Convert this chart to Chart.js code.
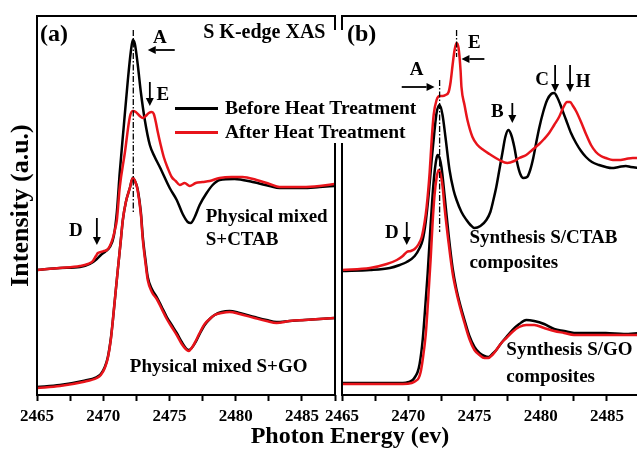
<!DOCTYPE html>
<html>
<head>
<meta charset="utf-8">
<script src="https://cdn.jsdelivr.net/npm/chart.js@4.4.1/dist/chart.umd.min.js"></script>
<style>
    html, body { margin: 0; padding: 0; background: #fff; }
    body { width: 637px; height: 451px; position: relative; overflow: hidden; font-family: 'Liberation Serif', 'Times New Roman', serif; }
    canvas { position: absolute; top: 0; }
    #chartA { left: 0; }
    #chartB { left: 300px; }
    .gap { position: absolute; left: 330px; top: 30px; width: 17px; height: 113px; background: #fff; z-index: 2; }
    .swatch { position: absolute; left: 175px; width: 43px; height: 3px; z-index: 3; }
    .ltext { position: absolute; left: 225px; font: bold 19.5px/24px 'Liberation Serif', serif; white-space: nowrap; z-index: 3; }
    .xtitle { position: absolute; left: 0; width: 700px; top: 423px; text-align: center; font: bold 24px/24px 'Liberation Serif', serif; z-index: 3; }
</style>
</head>
<body>
<canvas id="chartA" width="340" height="451"></canvas>
<canvas id="chartB" width="345" height="451"></canvas>
<div class="gap"></div>
<div class="swatch" style="top:107px;background:#000"></div>
<div class="ltext" style="top:96px">Before Heat Treatment</div>
<div class="swatch" style="top:131px;background:#e8141b"></div>
<div class="ltext" style="top:120px">After Heat Treatment</div>
<div class="xtitle">Photon Energy (ev)</div>

<script>
// Axis
const energyMin = 2465;
const energyMax = 2487.5;
const energyStep = 2.5;

// (a) Physical mixed S+CTAB
const aCtabBeforeE = [2465.00, 2466.73, 2468.24, 2468.99, 2469.52, 2469.82, 2470.20, 2470.50, 2470.80, 2471.03, 2471.25, 2471.56, 2471.86, 2472.08, 2472.23, 2472.39, 2472.61, 2472.84, 2473.14, 2473.52, 2473.89, 2474.27, 2475.02, 2475.55, 2476.00, 2476.38, 2476.61, 2476.91, 2477.28, 2477.81, 2478.26, 2478.79, 2479.92, 2481.28, 2482.56, 2483.31, 2485.05, 2486.33, 2487.46];
const aCtabBeforeI = [1.25, 1.27, 1.28, 1.31, 1.36, 1.40, 1.44, 1.48, 1.59, 1.83, 2.23, 2.70, 3.15, 3.43, 3.55, 3.51, 3.30, 3.03, 2.75, 2.50, 2.38, 2.28, 2.07, 1.95, 1.81, 1.73, 1.72, 1.78, 1.90, 2.02, 2.10, 2.15, 2.16, 2.13, 2.09, 2.07, 2.07, 2.08, 2.09];

const aCtabAfterE = [2465.00, 2466.73, 2468.24, 2468.84, 2469.22, 2469.45, 2469.60, 2469.82, 2470.05, 2470.28, 2470.50, 2470.73, 2470.88, 2471.03, 2471.25, 2471.63, 2472.01, 2472.23, 2472.46, 2472.76, 2472.99, 2473.21, 2473.44, 2473.67, 2473.82, 2473.97, 2474.12, 2474.34, 2474.57, 2474.87, 2475.17, 2475.47, 2475.78, 2476.15, 2476.53, 2476.98, 2477.51, 2478.04, 2478.79, 2479.69, 2480.52, 2481.58, 2482.56, 2483.31, 2485.05, 2486.33, 2487.46];
const aCtabAfterI = [1.25, 1.27, 1.29, 1.31, 1.34, 1.39, 1.42, 1.43, 1.44, 1.45, 1.49, 1.57, 1.65, 1.75, 2.08, 2.42, 2.78, 2.84, 2.83, 2.79, 2.77, 2.79, 2.82, 2.83, 2.81, 2.73, 2.63, 2.50, 2.38, 2.27, 2.18, 2.14, 2.10, 2.12, 2.09, 2.12, 2.13, 2.14, 2.17, 2.18, 2.18, 2.15, 2.11, 2.08, 2.08, 2.09, 2.11];

// (a) Physical mixed S+GO
const aGoE = [2465.00, 2466.73, 2468.47, 2469.52, 2469.82, 2470.12, 2470.35, 2470.58, 2470.73, 2470.95, 2471.10, 2471.33, 2471.48, 2471.71, 2472.01, 2472.23, 2472.46, 2472.61, 2472.84, 2472.99, 2473.21, 2473.36, 2473.67, 2474.04, 2474.42, 2474.80, 2475.17, 2475.55, 2475.93, 2476.23, 2476.45, 2476.68, 2476.98, 2477.28, 2477.66, 2478.04, 2478.41, 2478.94, 2479.54, 2480.30, 2481.43, 2482.33, 2483.09, 2484.07, 2485.20, 2486.33, 2487.46];
const aGoBeforeI = [0.08, 0.10, 0.14, 0.18, 0.21, 0.28, 0.38, 0.57, 0.75, 1.05, 1.25, 1.55, 1.75, 1.93, 2.07, 2.17, 2.12, 2.05, 1.83, 1.58, 1.33, 1.18, 1.06, 0.98, 0.88, 0.78, 0.70, 0.62, 0.53, 0.47, 0.45, 0.47, 0.53, 0.61, 0.70, 0.76, 0.80, 0.83, 0.84, 0.82, 0.78, 0.75, 0.73, 0.74, 0.75, 0.76, 0.77];
const aGoAfterI = [0.07, 0.09, 0.13, 0.17, 0.20, 0.27, 0.37, 0.56, 0.75, 1.05, 1.25, 1.55, 1.75, 1.93, 2.07, 2.17, 2.12, 2.04, 1.81, 1.55, 1.30, 1.15, 1.03, 0.96, 0.86, 0.76, 0.68, 0.60, 0.51, 0.46, 0.44, 0.47, 0.54, 0.62, 0.71, 0.76, 0.80, 0.82, 0.83, 0.81, 0.77, 0.74, 0.72, 0.74, 0.75, 0.76, 0.77];

// (b) Synthesis S/CTAB composites
const bCtabBeforeE = [2465.00, 2467.11, 2468.61, 2469.36, 2469.89, 2470.49, 2470.86, 2471.09, 2471.32, 2471.54, 2471.77, 2471.99, 2472.14, 2472.37, 2472.59, 2472.82, 2473.12, 2473.42, 2473.65, 2474.02, 2474.40, 2474.70, 2475.00, 2475.45, 2475.90, 2476.20, 2476.43, 2476.65, 2476.88, 2477.11, 2477.33, 2477.56, 2477.78, 2478.01, 2478.23, 2478.46, 2478.68, 2478.98, 2479.21, 2479.44, 2479.66, 2479.89, 2480.19, 2480.49, 2480.79, 2481.02, 2481.24, 2481.47, 2481.69, 2481.92, 2482.29, 2482.67, 2483.05, 2483.42, 2483.87, 2484.40, 2484.92, 2485.38, 2485.90, 2486.43, 2486.80, 2487.48];
const bCtabBeforeI = [1.24, 1.25, 1.27, 1.30, 1.33, 1.39, 1.47, 1.55, 1.73, 2.00, 2.35, 2.65, 2.82, 2.90, 2.80, 2.57, 2.25, 2.05, 1.95, 1.83, 1.75, 1.70, 1.67, 1.69, 1.75, 1.83, 1.95, 2.08, 2.25, 2.42, 2.58, 2.65, 2.60, 2.48, 2.32, 2.21, 2.17, 2.18, 2.25, 2.37, 2.52, 2.67, 2.83, 2.95, 3.01, 3.02, 2.98, 2.91, 2.83, 2.75, 2.62, 2.52, 2.44, 2.38, 2.33, 2.30, 2.28, 2.27, 2.28, 2.29, 2.28, 2.27];

const bCtabAfterE = [2465.00, 2467.11, 2468.38, 2469.14, 2469.59, 2469.89, 2470.19, 2470.49, 2470.79, 2471.02, 2471.24, 2471.39, 2471.62, 2471.77, 2471.92, 2472.14, 2472.37, 2472.59, 2472.82, 2473.05, 2473.20, 2473.35, 2473.50, 2473.65, 2473.80, 2473.95, 2474.02, 2474.25, 2474.47, 2474.85, 2475.23, 2475.68, 2476.13, 2476.88, 2477.48, 2478.01, 2478.38, 2478.91, 2479.36, 2479.89, 2480.26, 2480.64, 2481.02, 2481.39, 2481.69, 2481.99, 2482.22, 2482.44, 2482.67, 2483.05, 2483.42, 2483.80, 2484.17, 2484.55, 2484.92, 2485.45, 2485.90, 2486.43, 2486.95, 2487.48];
const bCtabAfterI = [1.25, 1.27, 1.31, 1.35, 1.39, 1.43, 1.44, 1.46, 1.51, 1.58, 1.73, 1.88, 2.23, 2.55, 2.80, 2.95, 2.99, 2.99, 3.00, 3.03, 3.13, 3.30, 3.45, 3.52, 3.47, 3.25, 3.08, 2.90, 2.75, 2.58, 2.50, 2.45, 2.41, 2.35, 2.32, 2.34, 2.37, 2.40, 2.45, 2.51, 2.56, 2.62, 2.70, 2.78, 2.87, 2.93, 2.93, 2.89, 2.84, 2.73, 2.61, 2.50, 2.43, 2.39, 2.37, 2.35, 2.35, 2.36, 2.37, 2.37];

// (b) Synthesis S/GO composites
const bGoBeforeE = [2465.00, 2467.86, 2469.59, 2470.04, 2470.34, 2470.56, 2470.71, 2470.86, 2471.09, 2471.24, 2471.47, 2471.69, 2471.84, 2471.99, 2472.14, 2472.22, 2472.37, 2472.52, 2472.74, 2473.05, 2473.35, 2473.65, 2473.95, 2474.25, 2474.62, 2475.00, 2475.38, 2475.75, 2476.05, 2476.35, 2476.65, 2477.03, 2477.41, 2477.86, 2478.38, 2478.91, 2479.51, 2480.26, 2481.02, 2481.77, 2482.52, 2483.65, 2484.92, 2486.28, 2487.48];
const bGoBeforeI = [0.12, 0.12, 0.12, 0.13, 0.15, 0.19, 0.23, 0.31, 0.55, 0.80, 1.22, 1.70, 2.00, 2.23, 2.37, 2.40, 2.37, 2.27, 2.00, 1.60, 1.27, 1.05, 0.89, 0.75, 0.59, 0.48, 0.42, 0.39, 0.38, 0.41, 0.45, 0.52, 0.58, 0.65, 0.71, 0.75, 0.74, 0.71, 0.66, 0.64, 0.62, 0.62, 0.62, 0.61, 0.62];

const bGoAfterE = [2465.00, 2467.86, 2469.59, 2470.26, 2470.56, 2470.79, 2470.94, 2471.09, 2471.32, 2471.47, 2471.69, 2471.84, 2471.99, 2472.14, 2472.29, 2472.44, 2472.59, 2472.74, 2473.05, 2473.35, 2473.65, 2473.95, 2474.25, 2474.62, 2475.00, 2475.38, 2475.75, 2476.05, 2476.35, 2476.65, 2477.03, 2477.41, 2477.86, 2478.38, 2478.91, 2479.51, 2480.26, 2481.02, 2481.77, 2482.52, 2483.65, 2484.92, 2486.28, 2487.48];
const bGoAfterI = [0.11, 0.11, 0.11, 0.12, 0.14, 0.17, 0.23, 0.35, 0.60, 0.88, 1.35, 1.72, 2.00, 2.17, 2.25, 2.21, 2.09, 1.88, 1.52, 1.22, 1.02, 0.86, 0.72, 0.56, 0.45, 0.40, 0.37, 0.37, 0.40, 0.45, 0.52, 0.57, 0.63, 0.68, 0.70, 0.70, 0.67, 0.64, 0.62, 0.60, 0.60, 0.60, 0.60, 0.60];

// Annotations (energy, intensity)
const notesA = {
    texts: [
        { t: '(a)', x: 2465.23, y: 3.60, align: 'left', size: 24 },
        { t: 'S K-edge XAS', x: 2486.78, y: 3.62, align: 'right', size: 20 },
        { t: 'A', x: 2474.27, y: 3.57 },
        { t: 'E', x: 2474.50, y: 3.00 },
        { t: 'D', x: 2467.94, y: 1.64 },
        { t: 'Physical mixed', x: 2477.74, y: 1.78, align: 'left' },
        { t: 'S+CTAB', x: 2477.74, y: 1.55, align: 'left' },
        { t: 'Physical mixed S+GO', x: 2472.01, y: 0.28, align: 'left' }
    ],
    arrows: [
        [2475.40, 3.45, 2473.36, 3.45],
        [2473.52, 3.13, 2473.52, 2.89],
        [2469.52, 1.77, 2469.52, 1.50]
    ],
    guides: [[2472.27, 3.65, 1.82]]
};

const notesB = {
    texts: [
        { t: '(b)', x: 2465.38, y: 3.60, align: 'left', size: 24 },
        { t: 'A', x: 2470.64, y: 3.25 },
        { t: 'E', x: 2475.00, y: 3.52 },
        { t: 'B', x: 2476.73, y: 2.83 },
        { t: 'C', x: 2480.11, y: 3.15 },
        { t: 'H', x: 2483.20, y: 3.13 },
        { t: 'D', x: 2468.76, y: 1.62 },
        { t: 'Synthesis S/CTAB', x: 2474.62, y: 1.57, align: 'left' },
        { t: 'composites', x: 2474.62, y: 1.32, align: 'left' },
        { t: 'Synthesis S/GO', x: 2477.41, y: 0.45, align: 'left' },
        { t: 'composites', x: 2477.41, y: 0.18, align: 'left' }
    ],
    arrows: [
        [2469.51, 3.08, 2471.99, 3.08],
        [2475.75, 3.36, 2474.02, 3.36],
        [2477.86, 2.92, 2477.86, 2.72],
        [2481.09, 3.30, 2481.09, 3.03],
        [2482.22, 3.30, 2482.22, 3.03],
        [2469.89, 1.73, 2469.89, 1.50]
    ],
    guides: [[2472.37, 3.15, 1.63], [2473.65, 3.65, 3.38]]
};

const BLACK = '#000000';
const RED = '#e8141b';
const FONT = "'Liberation Serif', 'Times New Roman', serif";

function pts(xs, ys) {
    return xs.map((x, i) => ({ x: x, y: ys[i] }));
}

function line(label, xs, ys, color) {
    return {
        label: label,
        data: pts(xs, ys),
        borderColor: color,
        borderWidth: 2.5,
        pointRadius: 0,
        cubicInterpolationMode: 'monotone',
        fill: false
    };
}

// Frame, arrows, dash-dot guides and labels
function makeNotes(notes) {
    return {
        id: 'notes',
        afterDatasetsDraw(chart) {
            const { ctx, chartArea: a, scales: { x, y } } = chart;
            ctx.save();
            ctx.strokeStyle = BLACK;
            ctx.fillStyle = BLACK;

            ctx.lineWidth = 1.3;
            ctx.setLineDash([6, 2, 1.5, 2]);
            notes.guides.forEach(g => {
                const px = x.getPixelForValue(g[0]);
                ctx.beginPath();
                ctx.moveTo(px, y.getPixelForValue(g[1]));
                ctx.lineTo(px, y.getPixelForValue(g[2]));
                ctx.stroke();
            });
            ctx.setLineDash([]);

            ctx.lineWidth = 1.8;
            notes.arrows.forEach(ar => {
                const x1 = x.getPixelForValue(ar[0]), y1 = y.getPixelForValue(ar[1]);
                const x2 = x.getPixelForValue(ar[2]), y2 = y.getPixelForValue(ar[3]);
                const ang = Math.atan2(y2 - y1, x2 - x1);
                const hl = 8, hw = 4;
                const bx = x2 - hl * Math.cos(ang), by = y2 - hl * Math.sin(ang);
                ctx.beginPath();
                ctx.moveTo(x1, y1);
                ctx.lineTo(bx, by);
                ctx.stroke();
                ctx.beginPath();
                ctx.moveTo(x2, y2);
                ctx.lineTo(bx + hw * Math.sin(ang), by - hw * Math.cos(ang));
                ctx.lineTo(bx - hw * Math.sin(ang), by + hw * Math.cos(ang));
                ctx.closePath();
                ctx.fill();
            });

            ctx.textBaseline = 'middle';
            notes.texts.forEach(n => {
                ctx.font = 'bold ' + (n.size || 19) + 'px ' + FONT;
                ctx.textAlign = n.align || 'center';
                ctx.fillText(n.t, x.getPixelForValue(n.x), y.getPixelForValue(n.y));
            });

            ctx.lineWidth = 2;
            ctx.strokeRect(a.left, a.top, a.right - a.left, a.bottom - a.top);
            ctx.restore();
        }
    };
}

function buildChart(id, datasets, notes, opts) {
    const ctx = document.getElementById(id).getContext('2d');
    return new Chart(ctx, {
        type: 'line',
        data: { datasets: datasets },
        options: {
            responsive: false,
            animation: false,
            devicePixelRatio: 1,
            layout: { padding: { top: 16, right: opts.right, left: 0, bottom: 0 } },
            plugins: { legend: { display: false }, tooltip: { enabled: false } },
            scales: {
                x: {
                    type: 'linear',
                    min: energyMin,
                    max: energyMax,
                    border: { display: false },
                    grid: { drawOnChartArea: false, drawTicks: true, tickLength: 6, tickWidth: 2, tickColor: BLACK },
                    ticks: {
                        stepSize: energyStep,
                        autoSkip: false,
                        maxRotation: 0,
                        minRotation: 0,
                        padding: 5,
                        color: BLACK,
                        font: { family: FONT, size: 17, weight: 'bold' },
                        callback: v => (v % 5 === 0 ? String(v) : '')
                    },
                    afterFit: s => { s.height = 56; }
                },
                y: {
                    min: 0,
                    max: 3.79,
                    border: { display: false },
                    grid: { display: false },
                    ticks: { display: false },
                    title: {
                        display: opts.yTitle,
                        text: 'Intensity (a.u.)',
                        color: BLACK,
                        padding: { top: 6, bottom: 0 },
                        font: { family: FONT, size: 26, weight: 'bold' }
                    },
                    afterFit: s => { s.width = opts.yWidth; }
                }
            }
        },
        plugins: [makeNotes(notes)]
    });
}

buildChart('chartA', [
    line('After Heat Treatment', aCtabAfterE, aCtabAfterI, RED),
    line('After Heat Treatment', aGoE, aGoAfterI, RED),
    line('Before Heat Treatment', aCtabBeforeE, aCtabBeforeI, BLACK),
    line('Before Heat Treatment', aGoE, aGoBeforeI, BLACK)
], notesA, { yWidth: 37, right: 5, yTitle: true });

buildChart('chartB', [
    line('After Heat Treatment', bCtabAfterE, bCtabAfterI, RED),
    line('After Heat Treatment', bGoAfterE, bGoAfterI, RED),
    line('Before Heat Treatment', bCtabBeforeE, bCtabBeforeI, BLACK),
    line('Before Heat Treatment', bGoBeforeE, bGoBeforeI, BLACK)
], notesB, { yWidth: 42, right: 4, yTitle: false });
</script>
</body>
</html>
